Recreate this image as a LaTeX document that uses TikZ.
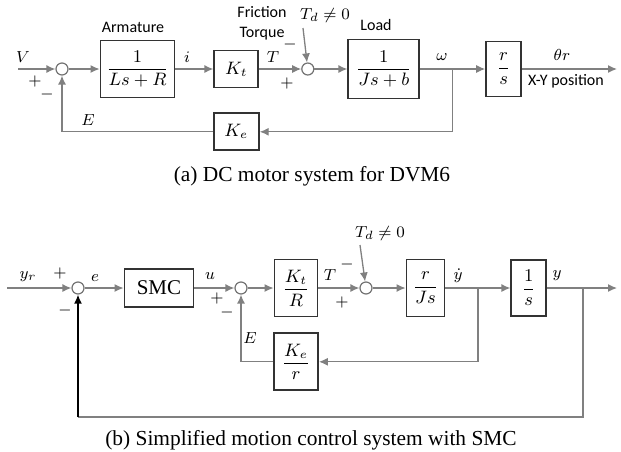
\documentclass[tikz,border=0pt]{standalone}
\usepackage{amsmath,amssymb}
\usepackage{fontspec}
\setmainfont{Liberation Serif}
\newfontfamily\calibfont{Carlito}
\usetikzlibrary{arrows.meta,positioning,calc}

\tikzset{
  blk/.style={draw=black!80, line width=0.9pt, inner sep=0pt, font=\fontsize{9}{10}\selectfont},
  sumc/.style={circle, draw=black!55, line width=0.6pt, minimum size=6pt, inner sep=0pt},
  sig/.style={draw=black!50, line width=0.65pt, -{Latex[length=4.5pt,width=4pt]}},
  wire/.style={draw=black!50, line width=0.65pt},
  mlbl/.style={inner sep=0pt, font=\fontsize{8.5}{10}\selectfont},
  slbl/.style={inner sep=0pt, align=center, font=\calibfont\fontsize{8}{10}\selectfont},
  sgn/.style={inner sep=0pt, font=\fontsize{8}{9}\selectfont},
  capt/.style={inner sep=0pt, font=\fontsize{10.7}{12}\selectfont}
}

\begin{document}
\begin{tikzpicture}[x=0.5pt,y=-0.5pt]
  \useasboundingbox (0,0) rectangle (621,451);

  % (a) DC motor
  \coordinate (ain) at (18,69);
  \node[sumc] (a1) at (62,69) {};
  \node[blk, minimum width=37pt, minimum height=28.5pt, right=15.5pt of a1] (arm) {$\dfrac{1}{Ls+R}$};
  \node[blk, minimum width=22pt, minimum height=18.5pt, right=19pt of arm] (kt) {$K_t$};
  \node[sumc, right=21pt of kt] (a2) {};
  \node[blk, minimum width=35.5pt, minimum height=29.5pt, right=16.5pt of a2] (load) {$\dfrac{1}{Js+b}$};
  \node[blk, minimum width=17.5pt, minimum height=27.5pt, right=32.5pt of load] (rs) {$\dfrac{r}{s}$};
  \node[blk, minimum width=22.5pt, minimum height=18.5pt, below=12pt of kt] (ke) {$K_e$};
  \coordinate (wb) at ($(load.east)!0.5!(rs.west)$);
  \coordinate (aout) at (617,69);
  \coordinate (tda) at (303,28);

  \draw[sig] (ain) -- (a1);
  \draw[sig] (a1) -- (arm);
  \draw[sig] (arm) -- (kt);
  \draw[sig] (kt) -- (a2);
  \draw[sig] (tda) -- (a2);
  \draw[sig] (a2) -- (load);
  \draw[sig] (load) -- (rs);
  \draw[sig] (rs) -- (aout);
  \draw[sig] (wb) |- (ke);
  \draw[sig] (ke) -| (a1);

  \node[mlbl] (lv) at (23,57) {$V$};
  \node[sgn] (pa1) at (35,81) {$+$};
  \node[sgn] (ma1) at (47,94) {$-$};
  \node[slbl] (larm) at (133,27) {Armature};
  \node[mlbl] (li) at (187,57) {$i$};
  \node[mlbl] (lt) at (273,57) {$T$};
  \node[slbl] (lfr) at (262,23) {Friction\\Torque};
  \node[sgn] (ma2) at (290,44) {$-$};
  \node[sgn] (pa2) at (287,83) {$+$};
  \node[mlbl] (ltd) at (325,15) {$T_d \neq 0$};
  \node[slbl] (lload) at (376,25) {Load};
  \node[mlbl] (lw) at (442,57) {$\omega$};
  \node[mlbl] (lth) at (562,55) {$\theta r$};
  \node[slbl] (lxy) at (566,81) {X-Y position};
  \node[mlbl] (le) at (88,120) {$E$};
  \node[capt] (capa) at (312,176) {(a) DC motor system for DVM6};

  % (b) simplified motion control with SMC
  \coordinate (bin) at (7,288);
  \node[sumc] (b1) at (78,288) {};
  \node[blk, minimum width=34.5pt, minimum height=19pt, right=19.5pt of b1, font=\fontsize{10.5}{12}\selectfont] (smc) {SMC};
  \node[sumc, right=20pt of smc] (b2) {};
  \node[blk, minimum width=21.5pt, minimum height=28.5pt, right=13pt of b2] (ktr) {$\dfrac{K_t}{R}$};
  \node[sumc, right=20.5pt of ktr] (b3) {};
  \node[blk, minimum width=19pt, minimum height=28.5pt, right=16.5pt of b3] (rjs) {$\dfrac{r}{Js}$};
  \node[blk, minimum width=17.5pt, minimum height=28pt, right=32.5pt of rjs] (is) {$\dfrac{1}{s}$};
  \node[blk, minimum width=22pt, minimum height=28.5pt, below=7.5pt of ktr] (ker) {$\dfrac{K_e}{r}$};
  \coordinate (yd) at ($(rjs.east)!0.5!(is.west)$);
  \coordinate (yb) at (583,288);
  \coordinate (bout) at (617,288);
  \coordinate (tdb) at (360,245);
  \coordinate (bl) at (78,417);

  \draw[sig] (bin) -- (b1);
  \draw[sig] (b1) -- (smc);
  \draw[sig] (smc) -- (b2);
  \draw[sig] (b2) -- (ktr);
  \draw[sig] (ktr) -- (b3);
  \draw[sig] (tdb) -- (b3);
  \draw[sig] (b3) -- (rjs);
  \draw[sig] (rjs) -- (is);
  \draw[sig] (is) -- (bout);
  \draw[sig] (yd) |- (ker);
  \draw[sig] (ker) -| (b2);
  \draw[wire] (yb) |- (bl);
  \draw[sig, draw=black, line width=0.8pt] (bl) -- (b1);

  \node[mlbl] (lyr) at (28,277) {$y_r$};
  \node[sgn] (pb1) at (60,273) {$+$};
  \node[sgn] (mb1) at (65,310) {$-$};
  \node[mlbl] (lerr) at (95,278) {$e$};
  \node[mlbl] (lu) at (210,276) {$u$};
  \node[sgn] (pb2) at (217,298) {$+$};
  \node[sgn] (mb2) at (227,312) {$-$};
  \node[mlbl] (leb) at (250,338) {$E$};
  \node[mlbl] (ltb) at (330,275) {$T$};
  \node[sgn] (mb3) at (347,264) {$-$};
  \node[sgn] (pb3) at (342,302) {$+$};
  \node[mlbl] (ltdb) at (380,233) {$T_d \neq 0$};
  \node[mlbl] (lyd) at (458,276) {$\dot{y}$};
  \node[mlbl] (ly) at (557,276) {$y$};
  \node[capt] (capb) at (311,440) {(b) Simplified motion control system with SMC};
\end{tikzpicture}
\end{document}
